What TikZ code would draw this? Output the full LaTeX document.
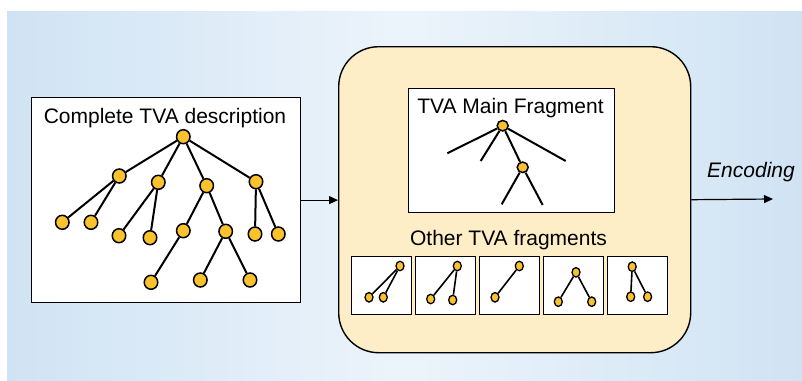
\documentclass[tikz,border=0pt]{standalone}
\usepackage{fontspec}
\setmainfont{Liberation Sans}
\usetikzlibrary{shapes.geometric,arrows.meta}
\definecolor{bgblue}{RGB}{208,227,244}
\definecolor{bglight}{RGB}{236,244,251}
\definecolor{panel}{RGB}{253,238,200}
\definecolor{knot}{RGB}{250,194,44}
\begin{document}
\begin{tikzpicture}[x=1pt,y=-1pt,
  font=\fontsize{21}{24}\selectfont,
  vtx/.style={ellipse,draw,line width=1.5pt,fill=knot,inner sep=0pt,minimum width=13.5pt,minimum height=14pt},
  mvtx/.style={vtx,minimum width=11pt,minimum height=10.5pt},
  svtx/.style={vtx,line width=1.3pt,minimum width=8pt,minimum height=9.5pt},
  edge/.style={line width=2pt},
  sedge/.style={line width=1.6pt},
  box/.style={draw,line width=1.2pt,fill=white,inner sep=0pt,anchor=north west},
  sbox/.style={box,minimum width=60pt,minimum height=58pt},
  flow/.style={line width=1.2pt,-{Triangle[length=9pt,width=8pt]}}]
\useasboundingbox (0,0) rectangle (802,380);
\shade[left color=bgblue,right color=bgblue,middle color=bglight] (7,11) rectangle (802,380);
% left box
\node[box,minimum width=269pt,minimum height=205pt] (full) at (31,97) {};
\node[anchor=base] (t1) at (165,123.3) {Complete TVA description};
% big panel
\node[box,fill=panel,line width=1.4pt,rounded corners=40pt,minimum width=352pt,minimum height=306pt] (panel) at (338,46) {};
\node[box,minimum width=205.5pt,minimum height=124pt] (mainbox) at (408,88) {};
\node[anchor=base] (t2) at (510.5,113.3) {TVA Main Fragment};
\node[anchor=base] (t3) at (508.5,245) {Other TVA fragments};
\node[sbox] (s1) at (350.5,256) {};
\node[sbox] (s2) at (414.5,256) {};
\node[sbox] (s3) at (478.5,256) {};
\node[sbox] (s4) at (542.5,256) {};
\node[sbox] (s5) at (606.5,256) {};
% arrows
\draw[flow] (full.east) -- (full.east -| panel.west);
\coordinate (out) at (773,199);
\draw[flow] (panel.east) -- (out);
\node[anchor=base,font=\fontsize{21}{24}\selectfont\itshape] (enc) at (751,177.7) {Encoding};
% complete tree
\node[vtx] (r) at (183.3,136.7) {};
\node[vtx] (a) at (119.3,176) {};
\node[vtx] (b) at (158.3,182.3) {};
\node[vtx] (c) at (206.7,185.7) {};
\node[vtx] (d) at (256,181.7) {};
\node[vtx] (a1) at (62.3,222.3) {};
\node[vtx] (a2) at (91,222.3) {};
\node[vtx] (b1) at (119,235.7) {};
\node[vtx] (b2) at (150,237.7) {};
\node[vtx] (c1) at (183.3,230.7) {};
\node[vtx] (c2) at (225.7,231.3) {};
\node[vtx] (d1) at (255,234) {};
\node[vtx] (d2) at (278.3,234) {};
\node[vtx] (c11) at (151,282.3) {};
\node[vtx] (c21) at (200.3,280) {};
\node[vtx] (c22) at (250,280) {};
\foreach \u/\v in {r/a,r/b,r/c,r/d,a/a1,a/a2,b/b1,b/b2,c/c1,c/c2,d/d1,d/d2,c1/c11,c2/c21,c2/c22}
  \draw[edge] (\u) -- (\v);
% main fragment
\node[mvtx] (m) at (502.7,125.7) {};
\node[mvtx] (mc) at (522.7,167.3) {};
\coordinate (me1) at (447.3,153.3);
\coordinate (me2) at (480.7,161);
\coordinate (me3) at (565.7,161);
\coordinate (mce1) at (501.7,204.3);
\coordinate (mce2) at (542.7,205);
\foreach \v in {me1,me2,me3,mc} \draw[edge] (m) -- (\v);
\foreach \v in {mce1,mce2} \draw[edge] (mc) -- (\v);
% small fragments
\node[svtx] (p1) at (400,266) {};
\node[svtx] (p1a) at (369,297.3) {};
\node[svtx] (p1b) at (383.3,297.3) {};
\node[svtx] (p2) at (457.3,266) {};
\node[svtx] (p2a) at (430.7,299) {};
\node[svtx] (p2b) at (452.7,300) {};
\node[svtx] (p3) at (519.3,266) {};
\node[svtx] (p3a) at (495,297.3) {};
\node[svtx] (p4) at (576,272.3) {};
\node[svtx] (p4a) at (558.3,301.7) {};
\node[svtx] (p4b) at (591.7,301.7) {};
\node[svtx] (p5) at (632.2,266.7) {};
\node[svtx] (p5a) at (630.7,296.7) {};
\node[svtx] (p5b) at (647.6,296.7) {};
\foreach \u/\v in {p1/p1a,p1/p1b,p2/p2a,p2/p2b,p3/p3a,p4/p4a,p4/p4b,p5/p5a,p5/p5b}
  \draw[sedge] (\u) -- (\v);
\end{tikzpicture}
\end{document}
